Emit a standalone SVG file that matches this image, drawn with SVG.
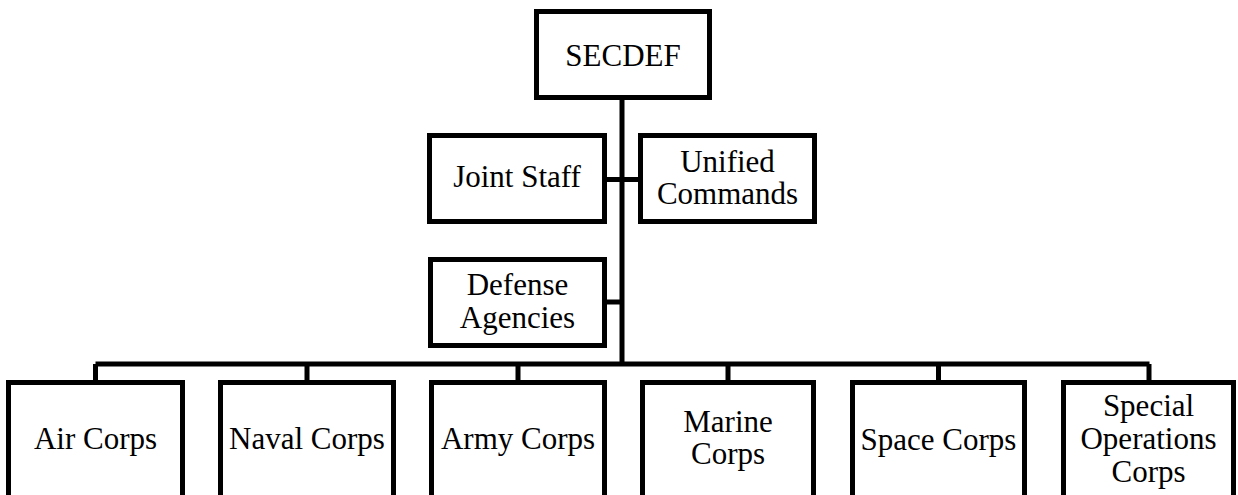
<svg xmlns="http://www.w3.org/2000/svg" width="1238" height="495" viewBox="0 0 1238 495">
<style>
.box{fill:#fff;stroke:#000;stroke-width:5}
.con{fill:none;stroke:#000;stroke-width:5}
text{font-family:"Liberation Serif","Times New Roman",serif;font-size:31px;fill:#000;text-anchor:middle}
</style>
<rect width="1238" height="495" fill="#fff"/>
<g id="connectors" class="con">
<path d="M622 100V366"/>
<path d="M95.5 364H1149.5"/>
<path d="M95.5 364V381M307 364V381M518 364V381M728 364V381M938.5 364V381M1149 364V381"/>
<path d="M607 179.5H638"/>
<path d="M607 302H622"/>
</g>
<g id="secdef"><rect class="box" x="536.5" y="11.5" width="173" height="86"/><text x="623" y="66">SECDEF</text></g>
<g id="joint-staff"><rect class="box" x="429.5" y="135.5" width="175" height="86"/><text x="517" y="187">Joint Staff</text></g>
<g id="unified-commands"><rect class="box" x="640.5" y="135.5" width="174" height="86"/><text x="727.5" y="172">Unified</text><text x="727.5" y="204">Commands</text></g>
<g id="defense-agencies"><rect class="box" x="430.5" y="259.5" width="174" height="86"/><text x="517.5" y="295">Defense</text><text x="517.5" y="328">Agencies</text></g>
<g id="air-corps"><rect class="box" x="8.5" y="382.5" width="174" height="140"/><text x="95.5" y="449">Air Corps</text></g>
<g id="naval-corps"><rect class="box" x="220.5" y="382.5" width="173" height="140"/><text x="307" y="449">Naval Corps</text></g>
<g id="army-corps"><rect class="box" x="431.5" y="382.5" width="173" height="140"/><text x="518" y="449">Army Corps</text></g>
<g id="marine-corps"><rect class="box" x="642.5" y="382.5" width="171" height="140"/><text x="728" y="432">Marine</text><text x="728" y="464">Corps</text></g>
<g id="space-corps"><rect class="box" x="852.5" y="382.5" width="172" height="140"/><text x="938.5" y="450">Space Corps</text></g>
<g id="special-operations-corps"><rect class="box" x="1063.5" y="382.5" width="170" height="140"/><text x="1148.5" y="416">Special</text><text x="1148.5" y="449">Operations</text><text x="1148.5" y="482">Corps</text></g>
</svg>
